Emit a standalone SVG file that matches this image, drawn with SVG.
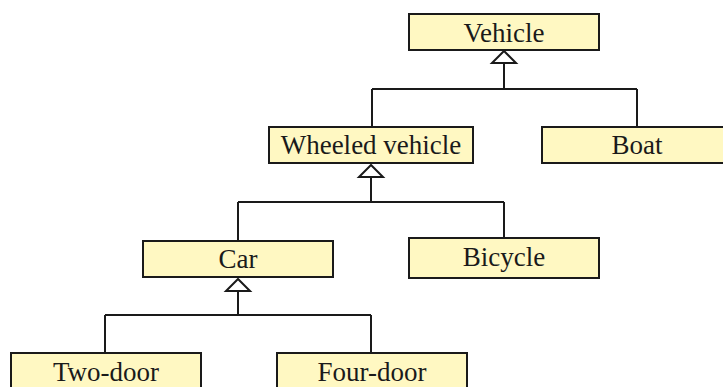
<svg xmlns="http://www.w3.org/2000/svg" width="723" height="387" viewBox="0 0 723 387">
<style>
.box{fill:#fff8c2;stroke:#1a1a1a;stroke-width:2}
.lbl{font-family:"Liberation Serif","Times New Roman",serif;font-size:27px;fill:#1a1a1a;text-anchor:middle}
.edge{fill:none;stroke:#1a1a1a;stroke-width:2}
.tri{fill:#ffffff;stroke:#1a1a1a;stroke-width:2;stroke-linejoin:miter}
</style>
<rect width="723" height="387" fill="#ffffff"/>
<g id="connectors">
<path class="edge" d="M504 63 V89 M372 89 H637 M372 89 V127 M637 89 V127"/>
<polygon class="tri" points="504,51 492,63 516,63"/>
<path class="edge" d="M371 177 V202 M238 202 H504 M238 202 V241 M504 202 V238"/>
<polygon class="tri" points="371,165 359,177 383,177"/>
<path class="edge" d="M238 291 V315 M105 315 H371 M105 315 V353 M371 315 V353"/>
<polygon class="tri" points="238,279 226,291 250,291"/>
</g>
<g id="vehicle"><rect class="box" x="409" y="14" width="190" height="36"/><text class="lbl" x="504" y="41.5">Vehicle</text></g>
<g id="wheeled"><rect class="box" x="269" y="127" width="204" height="36"/><text class="lbl" x="371" y="154">Wheeled vehicle</text></g>
<g id="boat"><rect class="box" x="542" y="127" width="190" height="36"/><text class="lbl" x="637" y="154">Boat</text></g>
<g id="car"><rect class="box" x="143" y="241" width="190" height="36"/><text class="lbl" x="238" y="267.5">Car</text></g>
<g id="bicycle"><rect class="box" x="409" y="238" width="190" height="40"/><text class="lbl" x="504" y="266">Bicycle</text></g>
<g id="twodoor"><rect class="box" x="11" y="353" width="190" height="36"/><text class="lbl" x="106" y="381">Two-door</text></g>
<g id="fourdoor"><rect class="box" x="277" y="353" width="190" height="36"/><text class="lbl" x="372" y="381">Four-door</text></g>
</svg>
